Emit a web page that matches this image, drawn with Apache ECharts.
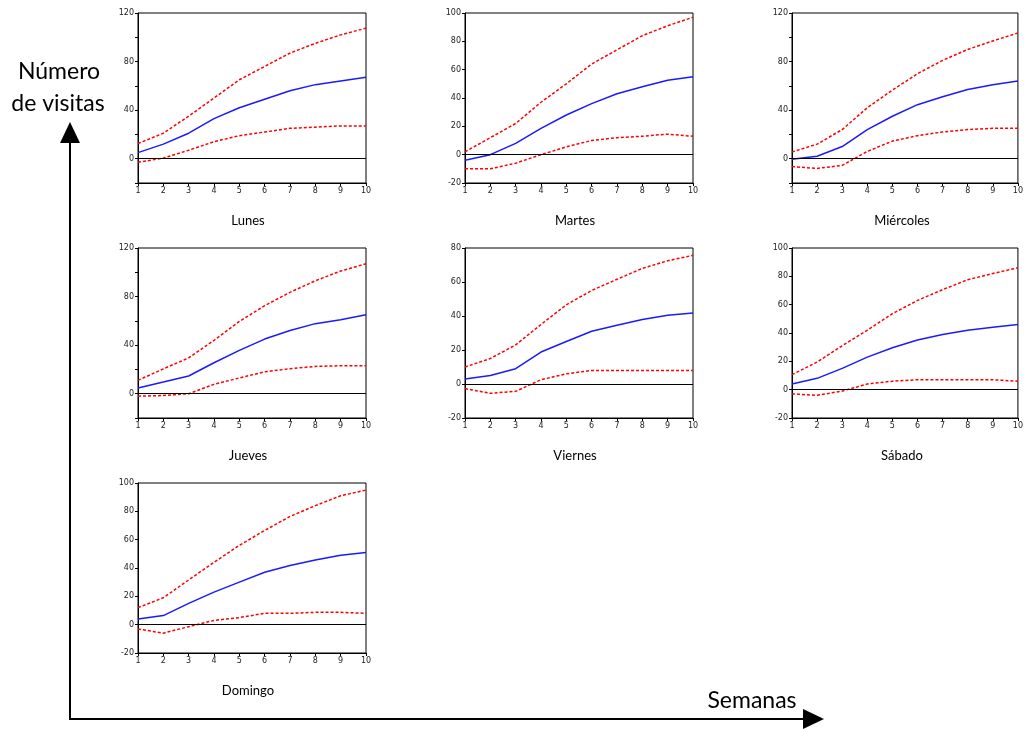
<!DOCTYPE html>
<html>
<head>
<meta charset="utf-8">
<script src="https://cdn.jsdelivr.net/npm/echarts/dist/echarts.min.js"></script>
<style>
    html, body { margin: 0; padding: 0; background: #fff; }
    #main { width: 1026px; height: 729px; }
</style>
</head>
<body>
<div id="main"></div>
<script>
var weeks = [1, 2, 3, 4, 5, 6, 7, 8, 9, 10];
var days = ['Lunes', 'Martes', 'Miércoles', 'Jueves', 'Viernes', 'Sábado', 'Domingo'];

// respuesta (azul) y bandas (rojo) por dia
var lunesMid = [5, 12, 21, 33, 42, 49, 56, 61, 64, 67];
var lunesUp = [12.5, 21, 35, 50, 65, 76, 87, 95, 102, 107.5];
var lunesLow = [-3, 0.5, 7, 14, 19, 22, 25, 26, 27, 27];

var martesMid = [-4, 0, 8, 18.5, 28, 36, 43, 48, 52.5, 55];
var martesUp = [2, 12, 22, 37, 50, 64, 74, 84, 91, 97];
var martesLow = [-10, -10, -6, 0, 5.5, 10, 12, 13, 14.5, 13];

var miercolesMid = [-0.5, 2, 10, 24, 35, 44.5, 51, 57, 61, 64];
var miercolesUp = [5.5, 12, 24, 42, 56.5, 70, 81, 90, 97, 103.5];
var miercolesLow = [-6.5, -8, -5.5, 6, 14.5, 19, 22, 24, 25, 25];

var juevesMid = [4.7, 9.6, 14.6, 25.5, 35.7, 45, 52, 57.7, 61, 65];
var juevesUp = [11, 20.5, 29.5, 44, 59.5, 72.5, 83.5, 93, 101, 107];
var juevesLow = [-2, -1.5, 0, 7.7, 13, 18, 20.6, 22.5, 23, 23];

var viernesMid = [3, 5, 9, 18.8, 25, 31, 34.5, 38, 40.4, 41.7];
var viernesUp = [10, 15, 23, 35, 46.6, 55, 61.6, 68, 72.5, 75.7];
var viernesLow = [-2.7, -5.5, -4.3, 2.5, 6, 8, 8, 8, 8, 8];

var sabadoMid = [4, 8, 15, 23, 29.6, 35, 39, 42, 44, 46];
var sabadoUp = [10.6, 19.5, 31, 42, 53.6, 63, 70.6, 77.6, 82, 86];
var sabadoLow = [-3, -4, -1, 4, 6, 7, 7, 7, 7, 6];

var domingoMid = [4, 6.4, 15, 23, 30, 37, 41.7, 45.7, 49, 51];
var domingoUp = [12, 19, 31.6, 44, 56, 66.5, 76.4, 84, 91, 95];
var domingoLow = [-3, -6, -1.4, 3, 5, 8, 8, 8.7, 8.7, 8];

var midList = [lunesMid, martesMid, miercolesMid, juevesMid, viernesMid, sabadoMid, domingoMid];
var upList = [lunesUp, martesUp, miercolesUp, juevesUp, viernesUp, sabadoUp, domingoUp];
var lowList = [lunesLow, martesLow, miercolesLow, juevesLow, viernesLow, sabadoLow, domingoLow];

var yMax = [120, 100, 120, 120, 80, 100, 100];
var yMin = [-20, -20, -20, -20, -20, -20, -20];
var yLabelStep = [40, 20, 40, 40, 20, 20, 20];

// posicion de cada panel
var gridLeft = [138, 465, 792, 138, 465, 792, 138];
var gridTop = [13, 13, 13, 248, 248, 248, 483];
var gridW = 228;
var gridH = 170;

function toPairs(values) {
    var l = [];
    for (var i = 0; i < weeks.length; i++) {
        l.push([weeks[i], values[i]]);
    }
    return l;
}

function labelFormatter(step) {
    return function (v) {
        return (v % step === 0) ? String(v) : '';
    };
}

var grids = [], xAxes = [], yAxes = [], series = [], graphics = [];

for (var i = 0; i < days.length; i++) {
    grids.push({
        left: gridLeft[i], top: gridTop[i], width: gridW, height: gridH,
        show: true, borderColor: '#000', borderWidth: 1, containLabel: false
    });
    xAxes.push({
        gridIndex: i, type: 'value', min: 1, max: 10, interval: 1,
        axisLine: { onZero: false, lineStyle: { color: '#000', width: 1 } },
        axisTick: { length: 3, lineStyle: { color: '#000' } },
        axisLabel: { fontSize: 8, color: '#222', margin: 4, fontFamily: 'DejaVu Sans' },
        splitLine: { show: false }
    });
    yAxes.push({
        gridIndex: i, type: 'value', min: yMin[i], max: yMax[i], interval: 20,
        axisLine: { show: true, onZero: false, lineStyle: { color: '#000', width: 1 } },
        axisTick: { length: 3, lineStyle: { color: '#000' } },
        axisLabel: { fontSize: 8, color: '#222', margin: 4, fontFamily: 'DejaVu Sans',
            formatter: labelFormatter(yLabelStep[i]) },
        splitLine: { show: false }
    });
    series.push({
        type: 'line', xAxisIndex: i, yAxisIndex: i, data: toPairs(upList[i]),
        symbol: 'none', lineStyle: { color: '#ff0000', width: 1.5, type: [3, 2] }
    });
    series.push({
        type: 'line', xAxisIndex: i, yAxisIndex: i, data: toPairs(lowList[i]),
        symbol: 'none', lineStyle: { color: '#ff0000', width: 1.5, type: [3, 2] }
    });
    series.push({
        type: 'line', xAxisIndex: i, yAxisIndex: i, data: toPairs(midList[i]),
        symbol: 'none', lineStyle: { color: '#1a1aff', width: 1.5 },
        z: 3,
        markLine: {
            silent: true, symbol: ['none', 'none'], label: { show: false },
            lineStyle: { color: '#000', type: 'solid', width: 1 },
            data: [{ yAxis: 0 }]
        }
    });
    graphics.push({
        type: 'text', x: gridLeft[i] + gridW / 2 - 4, y: gridTop[i] + gridH + 38,
        style: { text: days[i], font: '13px Lato', fill: '#000',
            textAlign: 'center', textVerticalAlign: 'middle' }
    });
}

// ejes con flechas
graphics.push({
    type: 'polyline', shape: { points: [[70, 140], [70, 719], [806, 719]] },
    style: { stroke: '#000', lineWidth: 2, fill: null }
});
graphics.push({
    type: 'polygon', shape: { points: [[70, 122], [60, 143], [80, 143]] },
    style: { fill: '#000' }
});
graphics.push({
    type: 'polygon', shape: { points: [[824, 719], [803, 709], [803, 729]] },
    style: { fill: '#000' }
});
graphics.push({
    type: 'text', x: 59, y: 72,
    style: { text: 'Número', font: '23px Lato', fill: '#000', textAlign: 'center', textVerticalAlign: 'middle' }
});
graphics.push({
    type: 'text', x: 58, y: 104,
    style: { text: 'de visitas', font: '23px Lato', fill: '#000', textAlign: 'center', textVerticalAlign: 'middle' }
});
graphics.push({
    type: 'text', x: 752, y: 701,
    style: { text: 'Semanas', font: '23px Lato', fill: '#000', textAlign: 'center', textVerticalAlign: 'middle' }
});

var myChart = echarts.init(document.getElementById('main'));
var option = {
    animation: false,
    backgroundColor: '#fff',
    grid: grids,
    xAxis: xAxes,
    yAxis: yAxes,
    series: series,
    graphic: graphics
};
myChart.setOption(option);
</script>
</body>
</html>
